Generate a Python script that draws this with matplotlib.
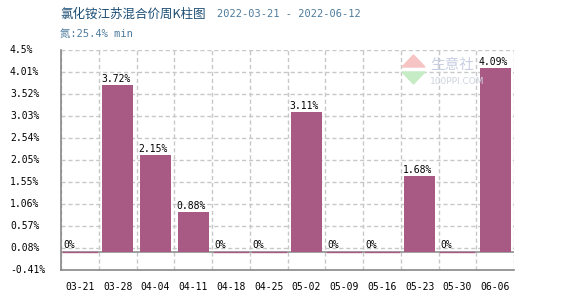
import matplotlib
matplotlib.use("Agg")
import matplotlib.pyplot as plt
from matplotlib.patches import Polygon
import matplotlib.transforms as mtransforms
import numpy as np

categories = ["03-21", "03-28", "04-04", "04-11", "04-18", "04-25",
              "05-02", "05-09", "05-16", "05-23", "05-30", "06-06"]
values = [0, 3.72, 2.15, 0.88, 0, 0, 3.11, 0, 0, 1.68, 0, 4.09]
ytick_vals = [-0.41, 0.08, 0.57, 1.06, 1.55, 2.05, 2.54, 3.03, 3.52, 4.01, 4.5]
ytick_labels = ["-0.41%", "0.08%", "0.57%", "1.06%", "1.55%", "2.05%",
                "2.54%", "3.03%", "3.52%", "4.01%", "4.5%"]
title_cn = "氯化铵江苏混合价周K柱图"
title_dates = "2022-03-21 - 2022-06-12"
subtitle = "氮:25.4% min"

bar_color = "#a95a84"
mono = ["DejaVu Sans Mono"]
cjk = ["Noto Sans CJK SC", "DejaVu Sans Mono"]
mono_cjk = ["DejaVu Sans Mono", "Noto Sans CJK SC"]

W, H = 570.0, 300.0
fig = plt.figure(figsize=(5.7, 3.0), dpi=100)
ax = fig.add_axes([61 / W, 30 / H, 453 / W, 220 / H])

n = len(categories)
x = np.arange(n)
ax.set_xlim(-0.5, n - 0.5)
ax.set_ylim(-0.41, 4.5)

# grid
for yv in ytick_vals:
    ax.axhline(yv, color="#c8c8c8", lw=1, ls=(0, (3, 2)), zorder=0)
for xb in np.arange(-0.5, n, 1.0):
    ax.axvline(xb, color="#c8c8c8", lw=1, ls=(0, (3, 2)), zorder=0)
ax.axhline(0, color="#909090", lw=1.2, zorder=1)

bars = ax.bar(x, values, width=0.82, color=bar_color, zorder=2)
for xi, v in zip(x, values):
    if v == 0:
        ax.plot([xi - 0.45, xi + 0.45], [0, 0], color=bar_color, lw=1, zorder=3)
    lbl = "0%" if v == 0 else f"{v:.2f}%"
    ax.text(xi - 0.44, v + 0.03, lbl, fontsize=7, family=mono,
            ha="left", va="bottom", color="black", zorder=4)

ax.set_xticks(x)
ax.set_xticklabels(categories, fontsize=7, family=mono)
ax.set_yticks(ytick_vals)
ax.set_yticklabels([])
ax.tick_params(axis="y", length=0)
ax.tick_params(axis="x", length=0, pad=9)

# y tick labels, left-aligned at a fixed figure x
ytrans = mtransforms.blended_transform_factory(fig.transFigure, ax.transData)
for yv, yl in zip(ytick_vals, ytick_labels):
    ax.text(10 / W, yv, yl, transform=ytrans, fontsize=7, family=mono,
            ha="left", va="center", color="black", clip_on=False)

for s in ["top", "right"]:
    ax.spines[s].set_visible(False)
for s in ["left", "bottom"]:
    ax.spines[s].set_color("#888888")
    ax.spines[s].set_linewidth(1.2)

# watermark (logo + text)
def fpt(px, py):
    return (px / W, 1 - py / H)
fig.patches.append(Polygon([fpt(402, 67), fpt(425, 67), fpt(413.5, 55)], closed=True,
                           transform=fig.transFigure, color="#f6c4c4", zorder=0))
fig.patches.append(Polygon([fpt(402, 72), fpt(425, 72), fpt(413.5, 84)], closed=True,
                           transform=fig.transFigure, color="#c6ecc6", zorder=0))
fig.text(430 / W, 1 - 65 / H, "生意社", fontsize=10.5, family=cjk,
         color="#c9cfe3", ha="left", va="center", zorder=0)
fig.text(430 / W, 1 - 81 / H, "100PPI.COM", fontsize=6.5, family=["DejaVu Sans"],
         color="#cfd3e0", ha="left", va="center", zorder=0)

# titles
fig.text(60 / W, 1 - 14 / H, title_cn, fontsize=9, family=cjk,
         color="#1d4f75", ha="left", va="center")
fig.text(217 / W, 1 - 14 / H, title_dates, fontsize=7.5, family=mono,
         color="#4d7b9c", ha="left", va="center")
fig.text(60 / W, 1 - 34 / H, subtitle, fontsize=7.5, family=mono_cjk,
         color="#4d7b9c", ha="left", va="center")

fig.savefig("out.png", dpi=100)
